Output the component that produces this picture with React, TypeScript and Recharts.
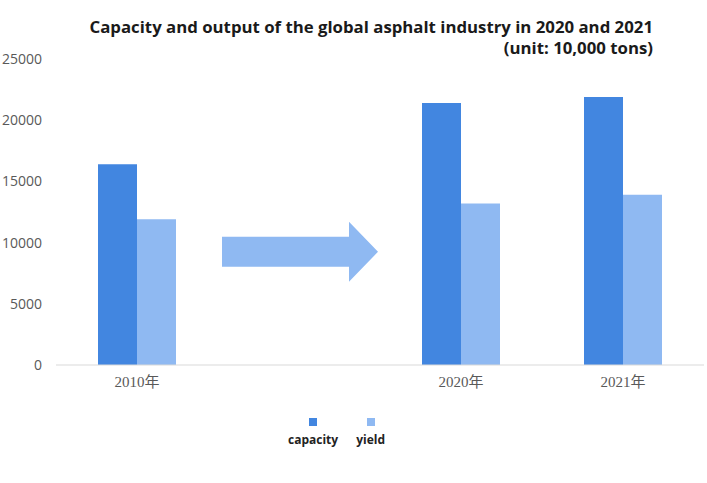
import { BarChart, Bar, XAxis, YAxis, ReferenceArea } from 'recharts';

const years = ['2010年', ' ', '2020年', '2021年'];
const capacity = [16400, null, 21400, 21900];
const yieldValues = [11900, null, 13200, 13900];
const yTicks = [0, 5000, 10000, 15000, 20000, 25000];
const seriesNames = ['capacity', 'yield'];

const CAPACITY_COLOR = '#4286e0';
const YIELD_COLOR = '#8fb9f2';
const COLORS = [CAPACITY_COLOR, YIELD_COLOR];

const data = years.map((year, i) => ({
  year,
  capacity: capacity[i],
  yield: yieldValues[i],
}));

// the big arrow between 2010 and 2020, drawn inside the empty band
function Arrow(props: any) {
  const { x, y, width, height } = props;
  const left = x + 4;
  const right = x + width - 2;
  const headStart = right - 29;
  const mid = y + height / 2;
  const bodyHalf = 15;
  const pts = [
    [left, mid - bodyHalf],
    [headStart, mid - bodyHalf],
    [headStart, y],
    [right, mid],
    [headStart, y + height],
    [headStart, mid + bodyHalf],
    [left, mid + bodyHalf],
  ]
    .map((p) => p.join(','))
    .join(' ');
  return <polygon points={pts} fill={YIELD_COLOR} />;
}

function ChartLegend() {
  return (
    <div
      style={{
        position: 'absolute',
        left: 288,
        top: 418,
        display: 'flex',
        gap: 18,
      }}
    >
      {seriesNames.map((name, i) => (
        <div key={name} style={{ display: 'flex', flexDirection: 'column', alignItems: 'center' }}>
          <div style={{ width: 8, height: 8, background: COLORS[i], marginBottom: 6 }} />
          <span
            style={{
              fontFamily: '"Open Sans", sans-serif',
              fontWeight: 700,
              fontSize: 12,
              lineHeight: '16px',
              color: '#222',
            }}
          >
            {name}
          </span>
        </div>
      ))}
    </div>
  );
}

export default function App() {
  return (
    <div style={{ position: 'absolute', left: 0, top: 0, width: 707, height: 483, background: '#fff' }}>
      <div
        style={{
          position: 'absolute',
          right: 54,
          top: 16,
          textAlign: 'right',
          fontFamily: '"Open Sans", sans-serif',
          fontWeight: 700,
          fontSize: 16.8,
          lineHeight: '21px',
          color: '#1a1a1a',
          whiteSpace: 'nowrap',
        }}
      >
        Capacity and output of the global asphalt industry in 2020 and 2021
        <br />
        (unit: 10,000 tons)
      </div>
      <BarChart
        width={707}
        height={483}
        data={data}
        margin={{ top: 59, right: 3, bottom: 88, left: 0 }}
        barCategoryGap={42}
        barGap={0}
      >
        <XAxis
          dataKey="year"
          height={30}
          axisLine={{ stroke: '#d9d9d9' }}
          tickLine={false}
          tickMargin={5}
          tick={{ fontSize: 15, fill: '#595959', fontFamily: '"Liberation Serif", "Noto Sans CJK SC", serif' }}
        />
        <YAxis
          width={56}
          domain={[0, 25000]}
          ticks={yTicks}
          axisLine={false}
          tickLine={false}
          tickMargin={8}
          tick={{ fontSize: 14, fill: '#595959', fontFamily: '"Open Sans", sans-serif' }}
        />
        <ReferenceArea x1=" " x2=" " y1={6800} y2={11700} shape={<Arrow />} ifOverflow="visible" />
        <Bar dataKey="capacity" fill={CAPACITY_COLOR} isAnimationActive={false} />
        <Bar dataKey="yield" fill={YIELD_COLOR} isAnimationActive={false} />
      </BarChart>
      <ChartLegend />
    </div>
  );
}
